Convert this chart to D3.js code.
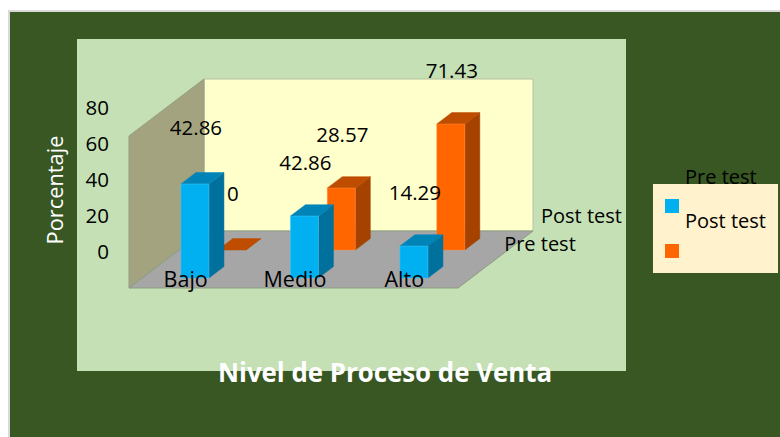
<!DOCTYPE html>
<html>
<head>
<meta charset="utf-8">
<script src="https://cdn.jsdelivr.net/npm/d3@7"></script>
<style>
  html, body { margin: 0; padding: 0; background: #fff; }
  svg { display: block; }
  text { font-family: "Open Sans", sans-serif; }
</style>
</head>
<body>
<div id="chart"></div>
<script>
var categories = ['Bajo', 'Medio', 'Alto'];
var seriesNames = ['Pre test', 'Post test'];

// printed labels, they do not always agree with the bar heights in the picture
var preLabels  = ['42.86', '42.86', '14.29'];
var postLabels = ['0', '28.57', '71.43'];

// bar heights as read against the walls (0-80)
var preValues  = [49.5, 32.6, 16.8];
var postValues = [0, 32.6, 66.3];

var yTicks = [0, 20, 40, 60, 80];

var width = 780, height = 437;

var svg = d3.select('#chart').append('svg')
    .attr('width', width)
    .attr('height', height);

// background panels
svg.append('rect').attr('x', 8).attr('y', 10).attr('width', 772).attr('height', 427).attr('fill', '#d9d9d9');
svg.append('rect').attr('x', 10).attr('y', 12).attr('width', 770).attr('height', 425).attr('fill', '#385723');
svg.append('rect').attr('x', 77).attr('y', 39).attr('width', 549).attr('height', 332).attr('fill', '#c5e0b4');

// 3d box: front-left floor corner, depth vector, sizes
var originX = 129, originY = 288,
    depthX = 75, depthY = -57,
    floorWidth = 329, wallHeight = 152;

function project(x, depth, h) {
    return [originX + x + depth * depthX, originY + depth * depthY - h];
}

function poly(points) {
    return points.map(function(p) { return p.join(','); }).join(' ');
}

var h = d3.scaleLinear().domain([0, 80]).range([0, wallHeight]);

var xBand = d3.scaleBand()
    .domain(categories)
    .range([38.8, 285.8])
    .paddingInner(0.744);

var depthBand = d3.scaleBand()
    .domain(seriesNames)
    .range([0.175, 0.867])
    .paddingInner(0.593);

var seriesColors = {
    'Pre test':  { front: '#00b0f0', side: '#00719c', top: '#0084b8', edge: '#4cc4f0' },
    'Post test': { front: '#ff6600', side: '#a64200', top: '#bf4d00', edge: '#ff8a40' }
};

// walls and floor
svg.append('polygon')
    .attr('points', poly([project(0, 1, 0), project(floorWidth, 1, 0), project(floorWidth, 1, wallHeight), project(0, 1, wallHeight)]))
    .attr('fill', '#ffffcc').attr('stroke', '#b5c2a0').attr('stroke-width', 1);
svg.append('polygon')
    .attr('points', poly([project(0, 0, 0), project(0, 1, 0), project(0, 1, wallHeight), project(0, 0, wallHeight)]))
    .attr('fill', '#a3a380').attr('stroke', '#939f85').attr('stroke-width', 1);
svg.append('polygon')
    .attr('points', poly([project(0, 0, 0), project(floorWidth, 0, 0), project(floorWidth, 1, 0), project(0, 1, 0)]))
    .attr('fill', '#a6a6a6').attr('stroke', '#8c9a82').attr('stroke-width', 1);

var preBars = categories.map(function(c, i) {
    return { cat: c, series: 'Pre test', value: preValues[i], label: preLabels[i] };
});
var postBars = categories.map(function(c, i) {
    return { cat: c, series: 'Post test', value: postValues[i], label: postLabels[i] };
});

// back row first so the front row covers it
var bars = postBars.concat(preBars);

var barGroups = svg.selectAll('g.bar').data(bars)
    .enter().append('g')
        .attr('class', 'bar');

function barCorners(d) {
    var x0 = xBand(d.cat), x1 = x0 + xBand.bandwidth(),
        d0 = depthBand(d.series), d1 = d0 + depthBand.bandwidth(),
        v = h(d.value);
    return { x0: x0, x1: x1, d0: d0, d1: d1, v: v };
}

barGroups.append('polygon')
    .attr('points', function(d) {
        var c = barCorners(d);
        return poly([project(c.x1, c.d0, 0), project(c.x1, c.d1, 0), project(c.x1, c.d1, c.v), project(c.x1, c.d0, c.v)]);
    })
    .attr('fill', function(d) { return seriesColors[d.series].side; })
    .attr('stroke', function(d) { return seriesColors[d.series].side; })
    .attr('stroke-width', 0.5);

barGroups.append('polygon')
    .attr('points', function(d) {
        var c = barCorners(d);
        return poly([project(c.x0, c.d0, c.v), project(c.x1, c.d0, c.v), project(c.x1, c.d1, c.v), project(c.x0, c.d1, c.v)]);
    })
    .attr('fill', function(d) { return seriesColors[d.series].top; })
    .attr('stroke', function(d) { return seriesColors[d.series].top; })
    .attr('stroke-width', 0.5);

barGroups.filter(function(d) { return d.value > 0; }).append('polygon')
    .attr('points', function(d) {
        var c = barCorners(d);
        return poly([project(c.x0, c.d0, 0), project(c.x1, c.d0, 0), project(c.x1, c.d0, c.v), project(c.x0, c.d0, c.v)]);
    })
    .attr('fill', function(d) { return seriesColors[d.series].front; })
    .attr('stroke', function(d) { return seriesColors[d.series].edge; })
    .attr('stroke-width', 0.5);

var fontSize = 20.5;

// data labels, placed off the bar top (Bajo sits a little higher in the original)
svg.selectAll('text.value').data(bars)
    .enter().append('text')
        .attr('class', 'value')
        .attr('text-anchor', 'middle')
        .attr('font-size', fontSize)
        .attr('fill', '#000')
        .attr('x', function(d) {
            var c = barCorners(d);
            return project((c.x0 + c.x1) / 2, c.d0, 0)[0] + 1;
        })
        .attr('y', function(d) {
            var c = barCorners(d);
            return project(c.x0, c.d0, c.v)[1] - (d.cat === 'Bajo' ? 49 : 46);
        })
        .text(function(d) { return d.label; });

// value axis, the labels sit a bit off the walls in the original
var yAxisScale = d3.scaleLinear().domain([0, 80]).range([252, 108]);

var yAxis = svg.append('g')
    .attr('transform', 'translate(109,0)')
    .call(d3.axisLeft(yAxisScale).tickValues(yTicks).tickSize(0).tickPadding(0));
yAxis.select('.domain').remove();
yAxis.selectAll('text')
    .attr('font-size', fontSize)
    .attr('font-family', '"Open Sans", sans-serif')
    .attr('fill', '#000');

// category labels along the front edge
var xLabel = d3.scaleBand().domain(categories).range([131, 459]);
svg.selectAll('text.cat').data(categories)
    .enter().append('text')
        .attr('class', 'cat')
        .attr('text-anchor', 'middle')
        .attr('font-size', 21.5)
        .attr('fill', '#000')
        .attr('x', function(d) { return xLabel(d) + xLabel.bandwidth() / 2; })
        .attr('y', 287)
        .text(function(d) { return d; });

// series labels on the depth axis
svg.selectAll('text.depth').data(seriesNames)
    .enter().append('text')
        .attr('class', 'depth')
        .attr('font-size', 20)
        .attr('fill', '#000')
        .attr('x', function(d) { return project(floorWidth, depthBand(d), 0)[0] + 33; })
        .attr('y', function(d) { return project(floorWidth, depthBand(d), 0)[1] - 27; })
        .text(function(d) { return d; });

// axis titles
svg.append('text')
    .attr('transform', 'translate(63,190) rotate(-90)')
    .attr('text-anchor', 'middle')
    .attr('font-size', 21.8)
    .attr('fill', '#fff')
    .text('Porcentaje');

svg.append('text')
    .attr('x', 385)
    .attr('y', 381.5)
    .attr('text-anchor', 'middle')
    .attr('font-size', 26)
    .attr('font-weight', 700)
    .attr('fill', '#fff')
    .attr('textLength', 334)
    .attr('lengthAdjust', 'spacingAndGlyphs')
    .text('Nivel de Proceso de Venta');

// legend
svg.append('rect').attr('x', 653).attr('y', 184).attr('width', 125).attr('height', 89).attr('fill', '#fff2cc');

var legendSwatch = d3.scalePoint().domain(seriesNames).range([199, 244]);
var legendText = d3.scalePoint().domain(seriesNames).range([184, 228]);

svg.selectAll('rect.key').data(seriesNames)
    .enter().append('rect')
        .attr('class', 'key')
        .attr('x', 665)
        .attr('y', function(d) { return legendSwatch(d); })
        .attr('width', 14)
        .attr('height', 14)
        .attr('fill', function(d) { return seriesColors[d].front; });

svg.selectAll('text.key').data(seriesNames)
    .enter().append('text')
        .attr('class', 'key')
        .attr('x', 685)
        .attr('y', function(d) { return legendText(d); })
        .attr('font-size', 20)
        .attr('fill', '#000')
        .text(function(d) { return d; });
</script>
</body>
</html>
